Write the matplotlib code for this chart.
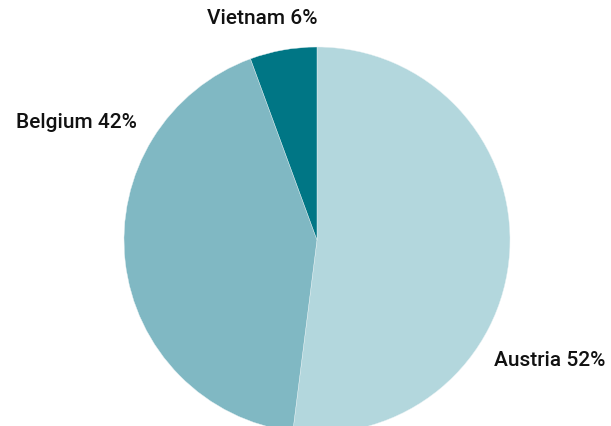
import matplotlib.pyplot as plt

# data (labels show rounded shares)
countries = ['Austria', 'Belgium', 'Vietnam']
shares = [52.0, 42.4, 5.6]
colors = ['#b3d7dd', '#80b8c3', '#007685']

# label placement (pixel coords, origin bottom-left)
label_pos = [(550, 66), (76, 304), (262, 408)]

fig = plt.figure(figsize=(6.11, 4.26), dpi=100)
ax = fig.add_axes([0, 0, 1, 1])

ax.pie(shares, colors=colors, startangle=90, counterclock=False,
       center=(317, 186), radius=193, frame=True,
       wedgeprops={'linewidth': 0.3, 'edgecolor': '#e8f2f4'})
ax.set_xlim(0, 611)
ax.set_ylim(0, 426)
ax.set_aspect('equal')
ax.axis('off')

for name, val, (x, y) in zip(countries, shares, label_pos):
    ax.text(x, y, f'{name} {round(val)}%', ha='center', va='center',
            fontsize=15, family='Roboto', weight='medium', color='#111111')

fig.savefig('out.png', dpi=100)
